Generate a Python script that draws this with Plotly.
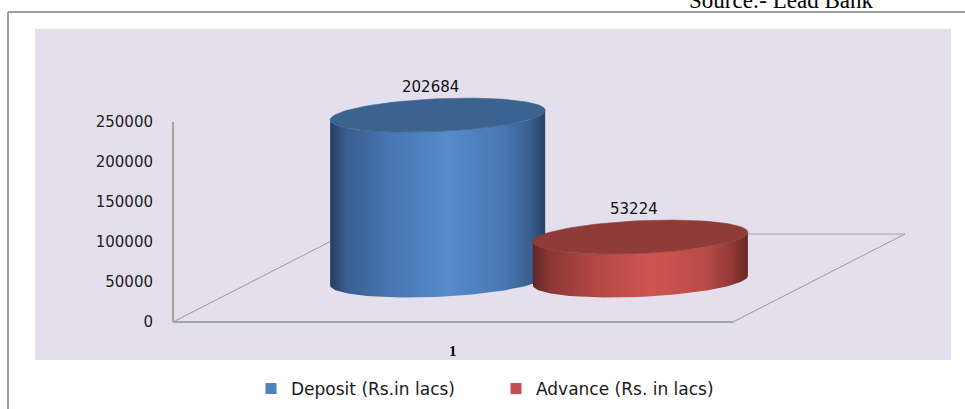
import numpy as np
import plotly.graph_objects as go

# ---------------- data ----------------
categories = ["1"]
series_names = ["Deposit (Rs.in lacs)", "Advance (Rs. in lacs)"]
deposit = [202684]
advance = [53224]
y_tick_values = [0, 50000, 100000, 150000, 200000, 250000]
source_text = "Source:- Lead Bank"

# ---------------- style ----------------
W, H = 965, 409
ML = 160                      # left margin (px)
PX_PER_X = 560.0              # pixels per category unit
PX_PER_Y = 0.0008             # pixels per value unit
CAT_PX = 453.0                # pixel of category centre (front plane)
ZERO_PX = 322.0               # pixel row of value 0 (front plane)

x_range = [1 - (CAT_PX - ML) / PX_PER_X, 1 + (W - CAT_PX) / PX_PER_X]
y_range = [-(H - ZERO_PX) / PX_PER_Y, ZERO_PX / PX_PER_Y]

DEPTH_X = 172 / PX_PER_X      # floor depth vector
DEPTH_Y = 88 / PX_PER_Y
CYL_SHIFT = 0.1536            # cylinders sit at mid depth
SERIES_OFF = [-0.181, 0.181]
A = 107.5 / PX_PER_X          # cylinder radius (x units)
B = 16.3 / PX_PER_Y           # ellipse vertical radius (y units)
K = 4.75 / PX_PER_Y           # ellipse skew
BASE = (ZERO_PX - 280.5) / PX_PER_Y
HSCALE = 1.02

body_scales = [
    [[0, "rgb(38,60,95)"], [0.08, "rgb(58,95,145)"], [0.3, "rgb(72,120,180)"],
     [0.55, "rgb(86,140,204)"], [0.8, "rgb(72,120,180)"], [0.93, "rgb(58,95,145)"],
     [1, "rgb(40,64,100)"]],
    [[0, "rgb(96,38,36)"], [0.08, "rgb(140,55,52)"], [0.3, "rgb(180,72,68)"],
     [0.55, "rgb(206,86,82)"], [0.8, "rgb(185,74,70)"], [0.93, "rgb(145,56,53)"],
     [1, "rgb(105,40,38)"]],
]
cap_colors = ["rgb(60,98,143)", "rgb(143,59,56)"]
legend_colors = ["#4F81BD", "#C0504D"]
label_font = dict(family="DejaVu Sans", size=15, color="#111111")

fig = go.Figure()

t_low = np.linspace(np.pi, 2 * np.pi, 60)
t_all = np.linspace(0, 2 * np.pi, 120)

values = [deposit[0], advance[0]]
for i, (name, v) in enumerate(zip(series_names, values)):
    cx = 1 + CYL_SHIFT + SERIES_OFF[i]
    top = BASE + v * HSCALE
    # body
    xt = cx + A * np.cos(t_low)
    yt = top + B * np.sin(t_low) + K * np.cos(t_low)
    xb = (cx + A * np.cos(t_low))[::-1]
    yb = (BASE + B * np.sin(t_low) + K * np.cos(t_low))[::-1]
    fig.add_trace(go.Scatter(
        x=np.concatenate([xt, xb]), y=np.concatenate([yt, yb]),
        mode="lines", fill="toself", line=dict(width=0, color=cap_colors[i]),
        fillgradient=dict(type="horizontal", colorscale=body_scales[i]),
        showlegend=False, hoverinfo="skip"))
    # cap
    fig.add_trace(go.Scatter(
        x=cx + A * np.cos(t_all),
        y=top + B * np.sin(t_all) + K * np.cos(t_all),
        mode="lines", fill="toself", fillcolor=cap_colors[i],
        line=dict(width=0.6, color=cap_colors[i]),
        showlegend=False, hoverinfo="skip"))
    fig.add_annotation(x=cx - 0.012, y=top, text=str(v), showarrow=False,
                       yshift=28, font=label_font)

# legend entries
for i, name in enumerate(series_names):
    fig.add_trace(go.Scatter(x=[None], y=[None], mode="markers", name=name,
                             marker=dict(symbol="square", size=11, color=legend_colors[i])))


def px(xp):
    return (xp - ML) / (W - ML)


def py(yp):
    return 1 - yp / H


shapes = [
    dict(type="rect", xref="paper", yref="paper", x0=px(35), x1=px(951),
         y0=py(360), y1=py(29), fillcolor="#E4DFEC", line=dict(width=0), layer="below"),
    dict(type="line", xref="paper", yref="paper", x0=px(8), x1=px(8),
         y0=py(409), y1=py(12), line=dict(color="#808080", width=1.5)),
    dict(type="line", xref="paper", yref="paper", x0=px(8), x1=px(965),
         y0=py(12), y1=py(12), line=dict(color="#808080", width=1.5)),
]
fl, fr = 1 - 0.5, 1 + 0.5
floor_col = "#a6a6a6"
shapes += [
    dict(type="line", xref="x", yref="y", x0=fl, y0=0, x1=fl + DEPTH_X, y1=DEPTH_Y,
         line=dict(color="#9a9a9a", width=1), layer="below"),
    dict(type="line", xref="x", yref="y", x0=fl + DEPTH_X, y0=DEPTH_Y, x1=fr + DEPTH_X, y1=DEPTH_Y,
         line=dict(color=floor_col, width=1.2), layer="below"),
    dict(type="line", xref="x", yref="y", x0=fr, y0=0, x1=fr + DEPTH_X, y1=DEPTH_Y,
         line=dict(color="#9a9a9a", width=1), layer="below"),
    dict(type="line", xref="x", yref="y", x0=fl, y0=0, x1=fr, y1=0,
         line=dict(color=floor_col, width=2.2), layer="below"),
    dict(type="line", xref="x", yref="y", x0=fl, y0=0, x1=fl, y1=y_tick_values[-1],
         line=dict(color=floor_col, width=2.2), layer="below"),
]

fig.add_annotation(x=1, y=0, text=categories[0], showarrow=False, yshift=-29,
                   font=dict(family="Liberation Serif", size=15, color="#000000", weight="bold"))
fig.add_annotation(xref="paper", yref="paper", x=px(781), y=py(1), text=source_text,
                   showarrow=False, xanchor="center", yanchor="middle",
                   font=dict(family="Liberation Serif", size=23, color="#000000"))

fig.update_layout(
    width=W, height=H,
    margin=dict(l=ML, r=0, t=0, b=0, pad=0),
    paper_bgcolor="white", plot_bgcolor="rgba(0,0,0,0)",
    shapes=shapes,
    hovermode=False,
    xaxis=dict(range=x_range, visible=False, fixedrange=True),
    yaxis=dict(range=y_range, tickvals=y_tick_values, tickformat="d", ticks="",
               showgrid=False, zeroline=False, showline=False, ticklabelstandoff=6,
               tickfont=dict(family="DejaVu Sans", size=15, color="#222222"),
               fixedrange=True, automargin=False),
    legend=dict(orientation="h", x=px(496), xanchor="center", y=py(389), yanchor="middle",
                font=dict(family="DejaVu Sans", size=17, color="#1a1a1a"),
                bgcolor="rgba(0,0,0,0)", entrywidth=200, itemwidth=30),
)

fig.write_html("out.html")
